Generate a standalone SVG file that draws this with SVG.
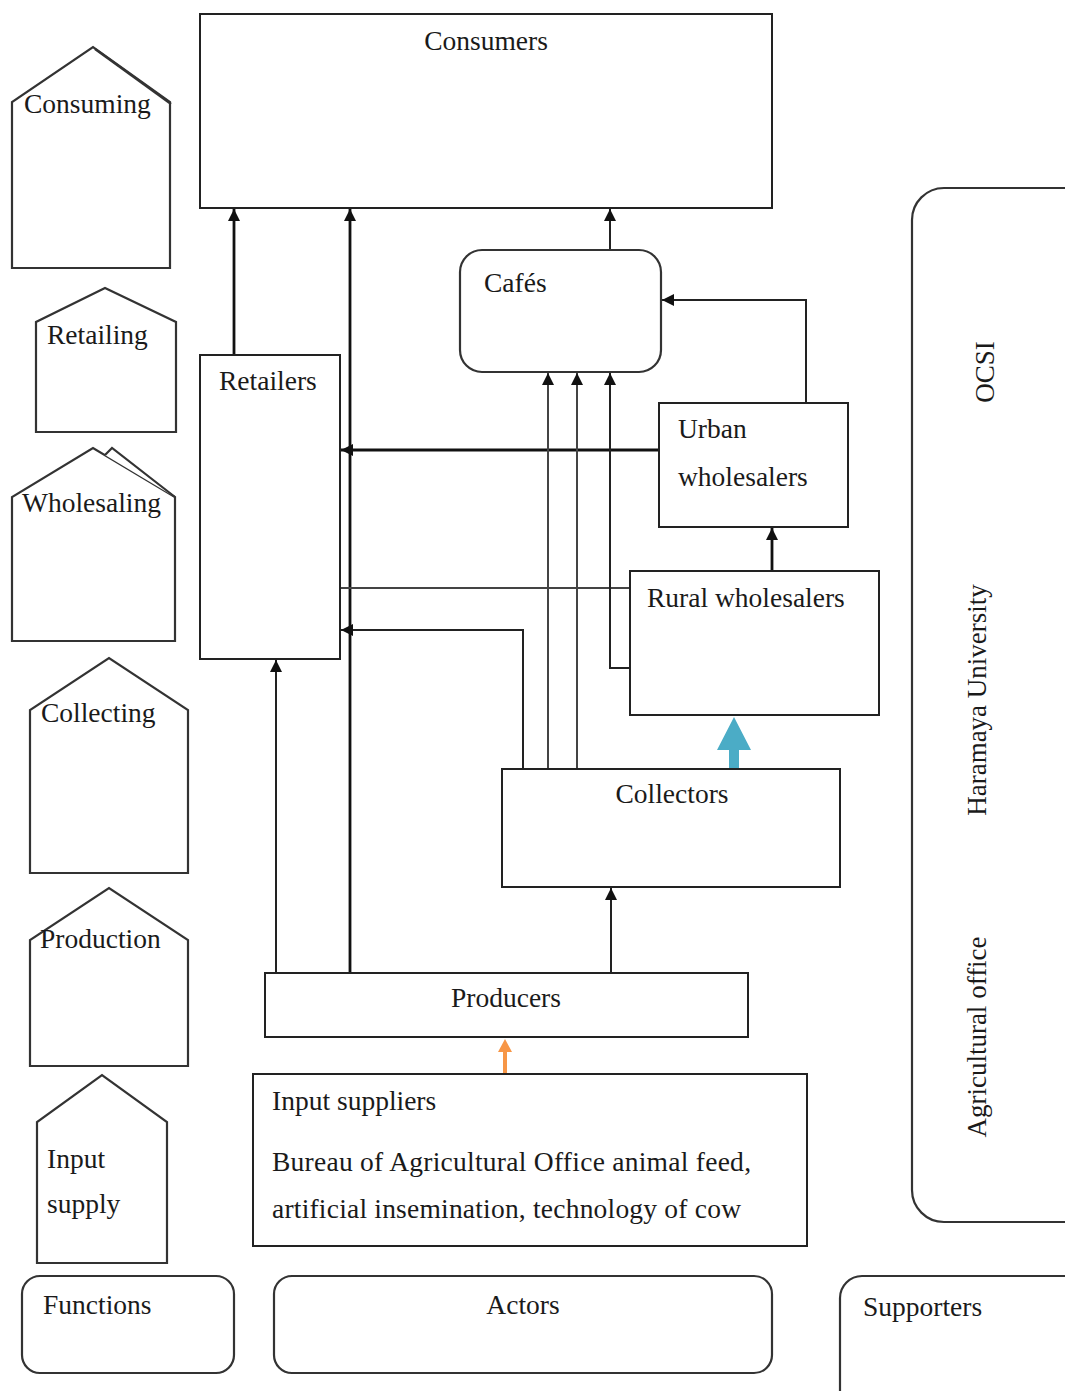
<svg xmlns="http://www.w3.org/2000/svg" width="1065" height="1391" viewBox="0 0 1065 1391">
<style>
.box{fill:#fff;stroke:#222;stroke-width:2}
.fn{fill:#fff;stroke:#333;stroke-width:2.2}
.t{font-family:"Liberation Serif","Times New Roman",serif;font-size:27.5px;fill:#1a1a1a}
.v{font-size:27px}
.c{stroke:#222;stroke-width:2;fill:none}
.ct{stroke:#111;stroke-width:2.8;fill:none}
.cg{stroke:#444;stroke-width:2;fill:none}
</style>
<defs>
<marker id="ah" viewBox="0 0 10 10" refX="10" refY="5" markerWidth="12" markerHeight="12" markerUnits="userSpaceOnUse" orient="auto">
<path d="M0,0 L10,5 L0,10 z" fill="#111"/>
</marker>
</defs>
<rect width="1065" height="1391" fill="#fff"/>

<g id="functions">
<g id="f-consuming">
<polygon class="fn" points="12,268 12,102 93,47 170,102 170,268"/>
<polyline class="fn" points="95,49 171,104" fill="none"/>
<text class="t" x="24" y="113">Consuming</text>
</g>
<g id="f-retailing">
<polygon class="fn" points="36,432 36,322 105,288 176,322 176,432"/>
<text class="t" x="47" y="344">Retailing</text>
</g>
<g id="f-wholesaling">
<polygon class="fn" points="12,641 12,497 93,448 175,497 175,641"/>
<polyline class="fn" fill="none" points="105,455 112,448 175,497"/>
<text class="t" x="22" y="512">Wholesaling</text>
</g>
<g id="f-collecting">
<polygon class="fn" points="30,873 30,710 109,658 188,710 188,873"/>
<text class="t" x="41" y="722">Collecting</text>
</g>
<g id="f-production">
<polygon class="fn" points="30,1066 30,940 109,888 188,940 188,1066"/>
<text class="t" x="40" y="948">Production</text>
</g>
<g id="f-input">
<polygon class="fn" points="37,1263 37,1122 102,1075 167,1122 167,1263"/>
<text class="t" x="47" y="1168">Input</text>
<text class="t" x="47" y="1213">supply</text>
</g>
</g>

<g id="legend">
<g id="l-functions"><rect class="fn" x="22" y="1276" width="212" height="97" rx="18"/><text class="t" x="43" y="1314">Functions</text></g>
<g id="l-actors"><rect class="fn" x="274" y="1276" width="498" height="97" rx="18"/><text class="t" x="523" y="1314" text-anchor="middle">Actors</text></g>
<g id="l-supporters"><rect class="fn" x="840" y="1276" width="260" height="140" rx="22"/><text class="t" x="863" y="1316">Supporters</text></g>
</g>

<g id="supporters">
<rect class="fn" x="912" y="188" width="200" height="1034" rx="32"/>
<text class="t v" transform="translate(994,372) rotate(-90)" text-anchor="middle">OCSI</text>
<text class="t v" transform="translate(986,700) rotate(-90)" text-anchor="middle">Haramaya University</text>
<text class="t v" transform="translate(986,1037) rotate(-90)" text-anchor="middle">Agricultural office</text>
</g>

<g id="connectors">
<line class="ct" x1="234" y1="355" x2="234" y2="209" marker-end="url(#ah)"/>
<line class="ct" x1="350" y1="973" x2="350" y2="209" marker-end="url(#ah)"/>
<line class="ct" x1="659" y1="450" x2="341" y2="450" marker-end="url(#ah)"/>
<line class="cg" x1="630" y1="588" x2="341" y2="588"/>
<polyline class="c" points="523,769 523,630 341,630" marker-end="url(#ah)"/>
<line class="cg" x1="548" y1="769" x2="548" y2="373" marker-end="url(#ah)"/>
<line class="cg" x1="577" y1="769" x2="577" y2="373" marker-end="url(#ah)"/>
<polyline class="c" points="630,668 610,668 610,373" marker-end="url(#ah)"/>
<polyline class="c" points="806,403 806,300 662,300" marker-end="url(#ah)"/>
<line class="c" x1="610" y1="250" x2="610" y2="209" marker-end="url(#ah)"/>
<line class="ct" x1="772" y1="571" x2="772" y2="528" marker-end="url(#ah)"/>
<line class="c" x1="276" y1="973" x2="276" y2="660" marker-end="url(#ah)"/>
<line class="c" x1="611" y1="973" x2="611" y2="888" marker-end="url(#ah)"/>
<polygon fill="#4BACC6" points="729,769 729,750 717,750 734,717 751,750 739,750 739,769"/>
<polygon fill="#F79646" points="503,1074 503,1052 498,1052 505,1039 512,1052 507,1052 507,1074"/>
</g>

<g id="consumers"><rect class="box" x="200" y="14" width="572" height="194"/><text class="t" x="486" y="50" text-anchor="middle">Consumers</text></g>
<g id="cafes"><rect class="fn" x="460" y="250" width="201" height="122" rx="22"/><text class="t" x="484" y="292">Cafés</text></g>
<g id="retailers"><rect class="box" x="200" y="355" width="140" height="304"/><text class="t" x="219" y="390">Retailers</text></g>
<g id="urban"><rect class="box" x="659" y="403" width="189" height="124"/><text class="t" x="678" y="438">Urban</text><text class="t" x="678" y="486">wholesalers</text></g>
<g id="rural"><rect class="box" x="630" y="571" width="249" height="144"/><text class="t" x="647" y="607">Rural wholesalers</text></g>
<g id="collectors"><rect class="box" x="502" y="769" width="338" height="118"/><text class="t" x="672" y="803" text-anchor="middle">Collectors</text></g>
<g id="producers"><rect class="box" x="265" y="973" width="483" height="64"/><text class="t" x="506" y="1007" text-anchor="middle">Producers</text></g>
<g id="inputsuppliers"><rect class="box" x="253" y="1074" width="554" height="172"/>
<text class="t" x="272" y="1110">Input suppliers</text>
<text class="t" x="272" y="1171" textLength="479" lengthAdjust="spacing">Bureau of Agricultural Office animal feed,</text>
<text class="t" x="272" y="1218" textLength="469" lengthAdjust="spacing">artificial insemination, technology of cow</text>
</g>
</svg>
